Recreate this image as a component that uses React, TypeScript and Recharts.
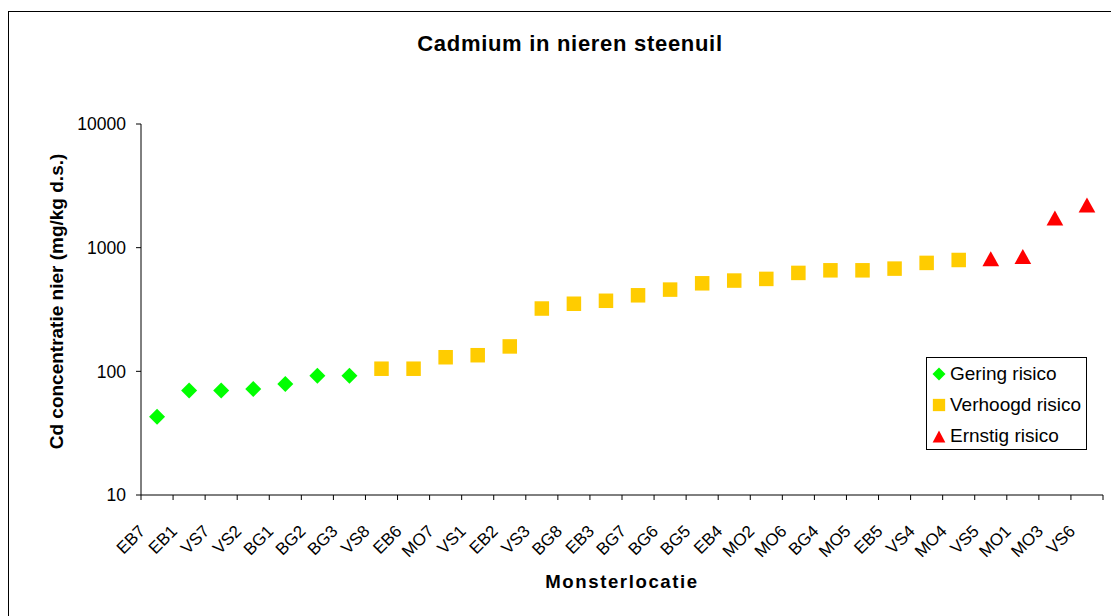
import React from 'react';
import { ComposedChart, Line, XAxis, YAxis, Legend } from 'recharts';

const categories = [
  'EB7', 'EB1', 'VS7', 'VS2', 'BG1', 'BG2', 'BG3', 'VS8', 'EB6', 'MO7',
  'VS1', 'EB2', 'VS3', 'BG8', 'EB3', 'BG7', 'BG6', 'BG5', 'EB4', 'MO2',
  'MO6', 'BG4', 'MO5', 'EB5', 'VS4', 'MO4', 'VS5', 'MO1', 'MO3', 'VS6',
];

// Cd (mg/kg d.s.) per risk class, in the order of the categories above
const geringRisico = [43, 70, 70, 72, 79, 92, 92];
const verhoogdRisico = [
  105, 105, 130, 135, 159, 322, 352, 372, 412, 458,
  515, 542, 559, 625, 656, 656, 677, 753, 795,
];
const ernstigRisico = [815, 849, 1737, 2213];

const yTicks = [10, 100, 1000, 10000];

const GREEN = '#00FF00';
const YELLOW = '#FFCC00';
const RED = '#FF0000';
const FONT = '"Liberation Sans", Arial, sans-serif';

const CHART_W = 1111;
const CHART_H = 616;
const Y_AXIS_W = 141;
const MARGIN = { top: 124, right: 8, bottom: 21, left: 0 };
const BAND = (CHART_W - MARGIN.right - Y_AXIS_W) / categories.length;

const data = categories.map((name, i) => {
  const g = i < geringRisico.length ? geringRisico[i] : null;
  const vi = i - geringRisico.length;
  const v = vi >= 0 && vi < verhoogdRisico.length ? verhoogdRisico[vi] : null;
  const ei = i - geringRisico.length - verhoogdRisico.length;
  const e = ei >= 0 ? ernstigRisico[ei] : null;
  return { name, gering: g, verhoogd: v, ernstig: e };
});

function Diamond({ cx, cy, r }: { cx: number; cy: number; r: number }) {
  return (
    <polygon
      points={`${cx},${cy - r} ${cx + r},${cy} ${cx},${cy + r} ${cx - r},${cy}`}
      fill={GREEN}
    />
  );
}

function Square({ cx, cy, s }: { cx: number; cy: number; s: number }) {
  return <rect x={cx - s / 2} y={cy - s / 2} width={s} height={s} fill={YELLOW} />;
}

function Triangle({ cx, cy, w, h }: { cx: number; cy: number; w: number; h: number }) {
  return (
    <polygon
      points={`${cx},${cy - h / 2} ${cx + w / 2},${cy + h / 2} ${cx - w / 2},${cy + h / 2}`}
      fill={RED}
    />
  );
}

const makeDot = (kind: string) => (props: any) => {
  const { cx, cy, value, index } = props;
  if (value == null || cy == null || isNaN(cy)) return <g key={`${kind}-${index}`} />;
  if (kind === 'g') return <Diamond key={`g-${index}`} cx={cx} cy={cy} r={8} />;
  if (kind === 'v') return <Square key={`v-${index}`} cx={cx} cy={cy} s={14.5} />;
  return <Triangle key={`e-${index}`} cx={cx} cy={cy} w={16.7} h={15} />;
};

function XTick(props: any) {
  const { x, y, payload, index } = props;
  const left = x - BAND / 2;
  return (
    <g>
      <line x1={left} y1={y} x2={left} y2={y + 5} stroke="#000" />
      {index === categories.length - 1 && (
        <line x1={x + BAND / 2} y1={y} x2={x + BAND / 2} y2={y + 5} stroke="#000" />
      )}
      <g transform={`translate(${x - 15},${y + 33}) rotate(-45)`}>
        <text textAnchor="end" dy="0.35em" fontSize={17} fontFamily={FONT} fill="#000">
          {payload.value}
        </text>
      </g>
    </g>
  );
}

const legendItems = [
  { label: 'Gering risico', kind: 'g' },
  { label: 'Verhoogd risico', kind: 'v' },
  { label: 'Ernstig risico', kind: 'e' },
];

function LegendBox() {
  return (
    <div
      style={{
        border: '1px solid #000',
        background: '#fff',
        width: 159,
        height: 91,
        fontFamily: FONT,
        fontSize: 19,
        color: '#000',
      }}
    >
      {legendItems.map((it) => (
        <div key={it.kind} style={{ height: 31, display: 'flex', alignItems: 'center' }}>
          <svg width={16} height={16} style={{ marginLeft: 4, flex: 'none' }}>
            {it.kind === 'g' && <Diamond cx={8} cy={8} r={6.5} />}
            {it.kind === 'v' && <Square cx={8} cy={8} s={12.3} />}
            {it.kind === 'e' && <Triangle cx={8} cy={8.5} w={12.7} h={12} />}
          </svg>
          <span style={{ marginLeft: 3, whiteSpace: 'nowrap' }}>{it.label}</span>
        </div>
      ))}
    </div>
  );
}

export default function App() {
  return (
    <div
      style={{
        position: 'absolute',
        left: 0,
        top: 0,
        width: CHART_W,
        height: CHART_H,
        overflow: 'hidden',
        background: '#fff',
        fontFamily: FONT,
      }}
    >
      <div
        style={{
          position: 'absolute',
          left: 8,
          top: 11,
          width: CHART_W,
          height: CHART_H,
          border: '1px solid #000',
        }}
      />
      <div
        style={{
          position: 'absolute',
          left: 370,
          top: 33,
          width: 400,
          textAlign: 'center',
          fontSize: 22,
          lineHeight: '22px',
          fontWeight: 'bold',
          letterSpacing: 0.7,
          color: '#000',
        }}
      >
        Cadmium in nieren steenuil
      </div>
      <ComposedChart width={CHART_W} height={CHART_H} data={data} margin={MARGIN}>
        <XAxis
          dataKey="name"
          scale="band"
          interval={0}
          height={100}
          tickLine={false}
          tickSize={0}
          tickMargin={0}
          tick={<XTick />}
          axisLine={{ stroke: '#000' }}
          label={{
            value: 'Monsterlocatie',
            position: 'insideBottom',
            offset: 7,
            fill: '#000',
            fontSize: 18.6,
            fontWeight: 'bold',
            fontFamily: FONT,
            letterSpacing: 1.6,
          }}
        />
        <YAxis
          scale="log"
          domain={[10, 10000]}
          ticks={yTicks}
          interval={0}
          allowDataOverflow
          width={Y_AXIS_W}
          tickSize={5}
          tickMargin={10}
          axisLine={{ stroke: '#000' }}
          tickLine={{ stroke: '#000' }}
          tick={{ fill: '#000', fontSize: 17.5, fontFamily: FONT }}
          label={(p: any) => {
            const vb = p.viewBox || { y: 124, height: 371 };
            const cy = vb.y + vb.height / 2 - 8;
            return (
              <text
                x={63}
                y={cy}
                transform={`rotate(-90 63 ${cy})`}
                textAnchor="middle"
                fontSize={19}
                fontWeight="bold"
                fontFamily={FONT}
                fill="#000"
              >
                Cd concentratie nier (mg/kg d.s.)
              </text>
            );
          }}
        />
        <Legend
          layout="vertical"
          align="center"
          verticalAlign="middle"
          content={<LegendBox />}
          wrapperStyle={{ left: 926, top: 357, width: 161, height: 93 }}
        />
        <Line
          dataKey="gering"
          name="Gering risico"
          stroke="none"
          dot={makeDot('g')}
          activeDot={false}
          isAnimationActive={false}
        />
        <Line
          dataKey="verhoogd"
          name="Verhoogd risico"
          stroke="none"
          dot={makeDot('v')}
          activeDot={false}
          isAnimationActive={false}
        />
        <Line
          dataKey="ernstig"
          name="Ernstig risico"
          stroke="none"
          dot={makeDot('e')}
          activeDot={false}
          isAnimationActive={false}
        />
      </ComposedChart>
    </div>
  );
}
